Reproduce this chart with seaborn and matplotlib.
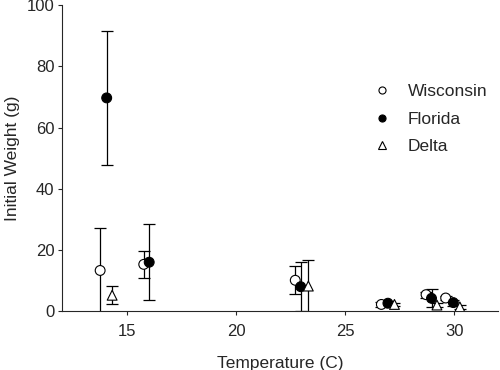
import matplotlib
matplotlib.use("Agg")
import matplotlib.pyplot as plt
import numpy as np
import seaborn as sns
import pandas as pd

sites = ["Wisconsin", "Florida", "Delta"]

# temperature, mean initial weight, error
wis_temp = [13.75, 15.75, 22.7, 26.65, 28.7, 29.6]
wis_wt = [13.3, 15.3, 10.1, 2.2, 5.4, 4.3]
wis_err = [14.0, 4.4, 4.5, 0.8, 1.0, 0.8]

fla_temp = [14.05, 16.0, 22.95, 26.95, 28.95, 29.95]
fla_wt = [69.7, 16.0, 8.0, 2.6, 4.2, 2.8]
fla_err = [22.0, 12.5, 8.1, 0.7, 3.0, 1.0]

del_temp = [14.3, 23.3, 27.25, 29.2, 30.25]
del_wt = [5.2, 8.2, 2.2, 2.0, 1.4]
del_err = [3.0, 8.5, 0.5, 0.8, 0.6]

data = pd.concat([
    pd.DataFrame({"temp": wis_temp, "wt": wis_wt, "err": wis_err, "site": "Wisconsin"}),
    pd.DataFrame({"temp": fla_temp, "wt": fla_wt, "err": fla_err, "site": "Florida"}),
    pd.DataFrame({"temp": del_temp, "wt": del_wt, "err": del_err, "site": "Delta"}),
])

sns.set_style("ticks")
plt.rcParams['font.family'] = ['Liberation Sans', 'DejaVu Sans']

fig = plt.figure(figsize=(5, 3.7), dpi=100)
ax = fig.add_axes([0.124, 0.159, 0.872, 0.827])

# error bars first so markers sit on top
ax.errorbar(data["temp"], data["wt"], yerr=data["err"], fmt="none",
            ecolor="black", elinewidth=0.9, capsize=4.5, capthick=0.9, zorder=1)

sns.scatterplot(data=data, x="temp", y="wt", hue="site", style="site",
                hue_order=sites, style_order=sites,
                palette={"Wisconsin": "white", "Florida": "black", "Delta": "white"},
                markers={"Wisconsin": "o", "Florida": "o", "Delta": "^"},
                s=50, edgecolor="black", linewidth=0.8, ax=ax, zorder=3)

handles, labels = ax.get_legend_handles_labels()
ax.legend(handles, labels, frameon=False, loc="upper left",
          bbox_to_anchor=(0.658, 0.794), fontsize=12.5, handletextpad=0.5,
          labelspacing=0.72, markerscale=0.72)

ax.set_xlim(12, 32)
ax.set_ylim(0, 100)
ax.set_xticks([15, 20, 25, 30])
ax.set_yticks([0, 20, 40, 60, 80, 100])
ax.set_xlabel("Temperature (C)", fontsize=12.5, labelpad=12)
ax.set_ylabel("Initial Weight (g)", fontsize=12.5, labelpad=5)
ax.tick_params(labelsize=12, direction="out", length=3, width=0.8)
ax.tick_params(axis="x", pad=6.5)
ax.tick_params(axis="y", pad=2.5)
for sp in ["left", "bottom"]:
    ax.spines[sp].set_linewidth(0.8)
sns.despine(ax=ax)

fig.savefig("out.png", dpi=100)
